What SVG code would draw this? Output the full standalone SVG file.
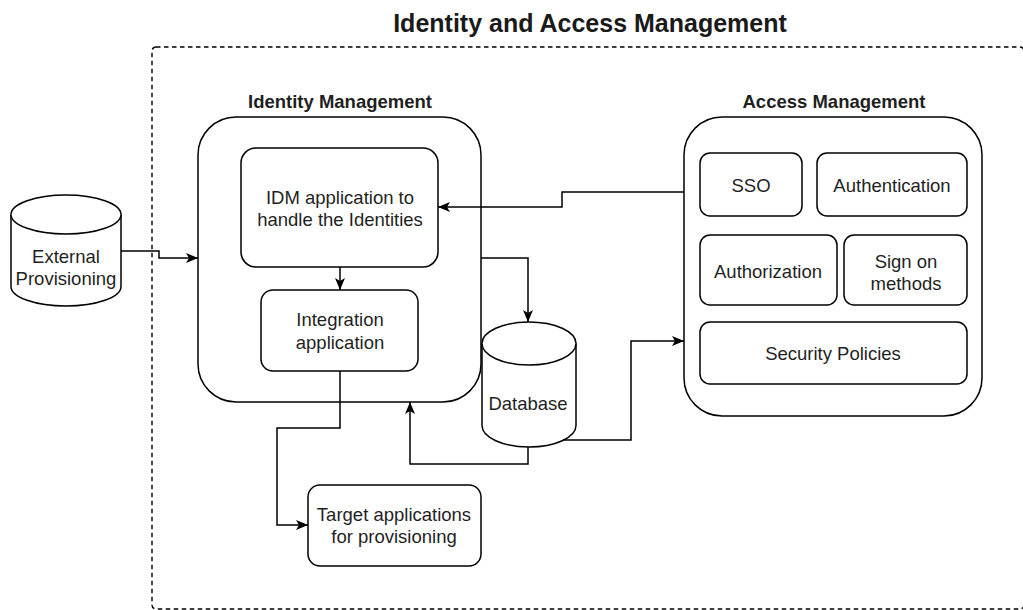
<svg xmlns="http://www.w3.org/2000/svg" width="1023" height="610" viewBox="0 0 1023 610">
  <style>
    .box { fill: #ffffff; stroke: #000000; stroke-width: 1.5; }
    .frame { fill: none; stroke: #000000; stroke-width: 1.4; stroke-dasharray: 4.5 3.5; }
    .edge { fill: none; stroke: #000000; stroke-width: 1.5; marker-end: url(#arrow); }
    .lbl { font-family: "Liberation Sans", Arial, sans-serif; font-size: 18.5px; fill: #1f1f1f; text-anchor: middle; }
    .hdr { font-family: "Liberation Sans", Arial, sans-serif; font-size: 18.5px; font-weight: bold; fill: #1f1f1f; text-anchor: middle; }
    .title { font-family: "Liberation Sans", Arial, sans-serif; font-size: 25px; font-weight: bold; fill: #1a1a1a; text-anchor: middle; }
  </style>
  <defs>
    <marker id="arrow" viewBox="0 0 12 10" refX="12" refY="5" markerWidth="12" markerHeight="10" markerUnits="userSpaceOnUse" orient="auto">
      <path d="M0,0 L12,5 L0,10 L3,5 Z" fill="#000000"/>
    </marker>
  </defs>
  <rect width="1023" height="610" fill="#ffffff"/>

  <!-- outer boundary (runs past the right and bottom edges) -->
  <g id="iam">
    <rect class="frame" x="152" y="47" width="872" height="562" rx="4"/>
    <text class="title" x="590" y="32">Identity and Access Management</text>
  </g>

  <!-- identity management -->
  <g id="identity-management">
    <rect class="box" x="198" y="117" width="283" height="285" rx="38"/>
    <text class="hdr" x="340" y="108">Identity Management</text>
  </g>
  <g id="idm-app">
    <rect class="box" x="241" y="148" width="197" height="119" rx="15"/>
    <text class="lbl" x="340" y="204">IDM application to</text>
    <text class="lbl" x="340" y="226">handle the Identities</text>
  </g>
  <g id="integration-app">
    <rect class="box" x="261" y="290" width="157" height="81" rx="12"/>
    <text class="lbl" x="340" y="326">Integration</text>
    <text class="lbl" x="340" y="349">application</text>
  </g>

  <!-- access management -->
  <g id="access-management">
    <rect class="box" x="684" y="117" width="298" height="299" rx="38"/>
    <text class="hdr" x="834" y="108">Access Management</text>
  </g>
  <g id="sso">
    <rect class="box" x="700" y="153" width="102" height="63" rx="10"/>
    <text class="lbl" x="751" y="192">SSO</text>
  </g>
  <g id="authentication">
    <rect class="box" x="817" y="153" width="150" height="63" rx="10"/>
    <text class="lbl" x="892" y="192">Authentication</text>
  </g>
  <g id="authorization">
    <rect class="box" x="700" y="235" width="137" height="70" rx="10"/>
    <text class="lbl" x="768" y="278">Authorization</text>
  </g>
  <g id="sign-on-methods">
    <rect class="box" x="844" y="235" width="123" height="70" rx="10"/>
    <text class="lbl" x="906" y="268">Sign on</text>
    <text class="lbl" x="906" y="290">methods</text>
  </g>
  <g id="security-policies">
    <rect class="box" x="700" y="322" width="267" height="62" rx="10"/>
    <text class="lbl" x="833" y="360">Security Policies</text>
  </g>

  <!-- stores -->
  <g id="external-provisioning">
    <path class="box" d="M11,214.5 A55,19.5 0 0 1 121,214.5 V286.5 A55,19.5 0 0 1 11,286.5 Z"/>
    <path class="box" fill="none" d="M11,214.5 A55,19.5 0 0 0 121,214.5"/>
    <text class="lbl" x="66" y="263">External</text>
    <text class="lbl" x="66" y="285">Provisioning</text>
  </g>
  <g id="database">
    <path class="box" d="M482,343.5 A47,21.5 0 0 1 576,343.5 V425.5 A47,21.5 0 0 1 482,425.5 Z"/>
    <path class="box" fill="none" d="M482,343.5 A47,21.5 0 0 0 576,343.5"/>
    <text class="lbl" x="528" y="410">Database</text>
  </g>

  <g id="target-apps">
    <rect class="box" x="308" y="485" width="173" height="81" rx="12"/>
    <text class="lbl" x="394" y="521">Target applications</text>
    <text class="lbl" x="394" y="543">for provisioning</text>
  </g>

  <!-- connectors -->
  <g id="connectors">
    <path class="edge" d="M121,251 H159 V258 H198"/>
    <path class="edge" d="M684,192 H562 V207 H438"/>
    <path class="edge" d="M340,267 V290"/>
    <path class="edge" d="M481,258 H528 V322"/>
    <path class="edge" d="M340,371 V428 H277 V525 H308"/>
    <path class="edge" d="M528,447 V464 H410 V402"/>
    <path class="edge" d="M563,440 H631 V341 H684"/>
  </g>
</svg>
